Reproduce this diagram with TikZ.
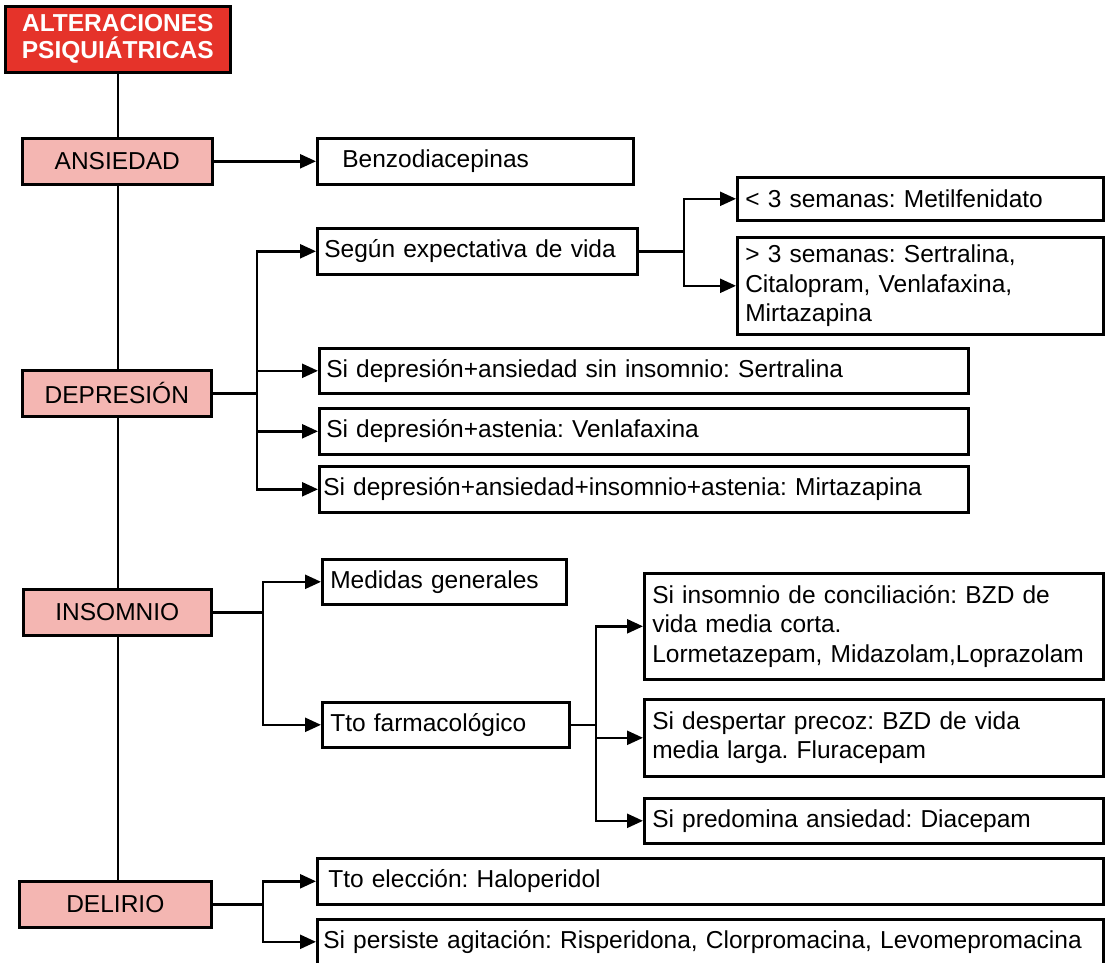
\documentclass[tikz,border=0pt]{standalone}
\usepackage{fontspec}
\setmainfont{Liberation Sans}
\usetikzlibrary{arrows.meta}
\definecolor{titlered}{HTML}{E5332A}
\definecolor{catpink}{HTML}{F4B6B2}
\frenchspacing
\begin{document}
\begin{tikzpicture}[x=1pt,y=-1pt,every node/.style={font=\fontsize{24.5}{29.5}\selectfont},
 title/.style={draw,line width=2.6pt,fill=titlered,text=white,anchor=north west,align=center,
  inner sep=0pt,minimum width=225,minimum height=66,font=\fontsize{24.5}{27}\selectfont\bfseries},
 cat/.style={draw,line width=2.6pt,fill=catpink,anchor=north west,inner sep=0pt,minimum width=#1,minimum height=46},
 leaf/.style n args={3}{draw,line width=2.6pt,anchor=north west,align=left,inner xsep=#3,inner ysep=0pt,
  text width=#1-2*#3,minimum height=#2},
 spine/.style={line width=1.8pt},
 conn/.style={line width=2.4pt,-{Triangle[length=16pt,width=14pt]}}]
 \useasboundingbox (0,0) rectangle (1111,962);
 \node [title] (title) at (4,5) {ALTERACIONES\\PSIQUIÁTRICAS};
 \node [cat=190] (ansiedad) at (21,137) {ANSIEDAD};
 \node [cat=189] (depresion) at (21,369) {DEPRESIÓN};
 \node [cat=188] (insomnio) at (22,588) {INSOMNIO};
 \node [cat=192] (delirio) at (18,880) {DELIRIO};
 \draw [spine] (title.south) -- (title.south |- ansiedad.north);
 \draw [spine] (title.south |- ansiedad.south) -- (title.south |- depresion.north);
 \draw [spine] (title.south |- depresion.south) -- (title.south |- insomnio.north);
 \draw [spine] (title.south |- insomnio.south) -- (title.south |- delirio.north);
 \node [leaf={316}{46}{25pt}] (benzo) at (316,137) {Benzodiacepinas};
 \draw [conn] (ansiedad.east) -- (benzo.west);
 \node [leaf={320}{46}{7pt}] (segun) at (316,227) {Según expectativa de vida};
 \node [leaf={366}{43}{8pt}] (menos) at (736,176) {< 3 semanas: Metilfenidato};
 \node [leaf={366}{97}{8pt}] (mas) at (736,236) {> 3 semanas: Sertralina,\\Citalopram, Venlafaxina,\\Mirtazapina};
 \node [leaf={649}{45}{7pt}] (dep1) at (318,347) {Si depresión+ansiedad sin insomnio: Sertralina};
 \node [leaf={649}{46}{7pt}] (dep2) at (318,407) {Si depresión+astenia: Venlafaxina};
 \node [leaf={649}{46}{4pt}] (dep3) at (318,465) {Si depresión+ansiedad+insomnio+astenia: Mirtazapina};
 \coordinate (depbr) at (257,0);
 \foreach \c in {segun,dep1,dep2,dep3}
  \draw [conn] (depresion.east) -- (depbr |- depresion.east) |- (\c.west);
 \coordinate (segbr) at (684,0);
 \foreach \c in {menos,mas}
  \draw [conn] (segun.east) -- (segbr |- segun.east) |- (\c.west);
 \node [leaf={244}{45}{8pt}] (medidas) at (321,558) {Medidas generales};
 \node [leaf={247}{45}{8pt}] (farma) at (321,701) {Tto farmacológico};
 \node [leaf={459}{106}{8pt}] (conc) at (643,572) {Si insomnio de conciliación: BZD de\\vida media corta.\\Lormetazepam, Midazolam,Loprazolam};
 \node [leaf={459}{77}{8pt}] (precoz) at (643,698) {Si despertar precoz: BZD de vida\\media larga. Fluracepam};
 \node [leaf={459}{45}{8pt}] (predom) at (643,797) {Si predomina ansiedad: Diacepam};
 \coordinate (insbr) at (263,0);
 \foreach \c in {medidas,farma}
  \draw [conn] (insomnio.east) -- (insbr |- insomnio.east) |- (\c.west);
 \coordinate (farbr) at (596,0);
 \foreach \c in {conc,precoz,predom}
  \draw [conn] (farma.east) -- (farbr |- farma.east) |- (\c.west);
 \node [leaf={786}{46}{11pt}] (haldol) at (316,857) {Tto elección: Haloperidol};
 \node [leaf={786}{45}{6pt}] (agit) at (316,918) {Si persiste agitación: Risperidona, Clorpromacina, Levomepromacina};
 \coordinate (delbr) at (263,0);
 \foreach \c in {haldol,agit}
  \draw [conn] (delirio.east) -- (delbr |- delirio.east) |- (\c.west);
\end{tikzpicture}
\end{document}
